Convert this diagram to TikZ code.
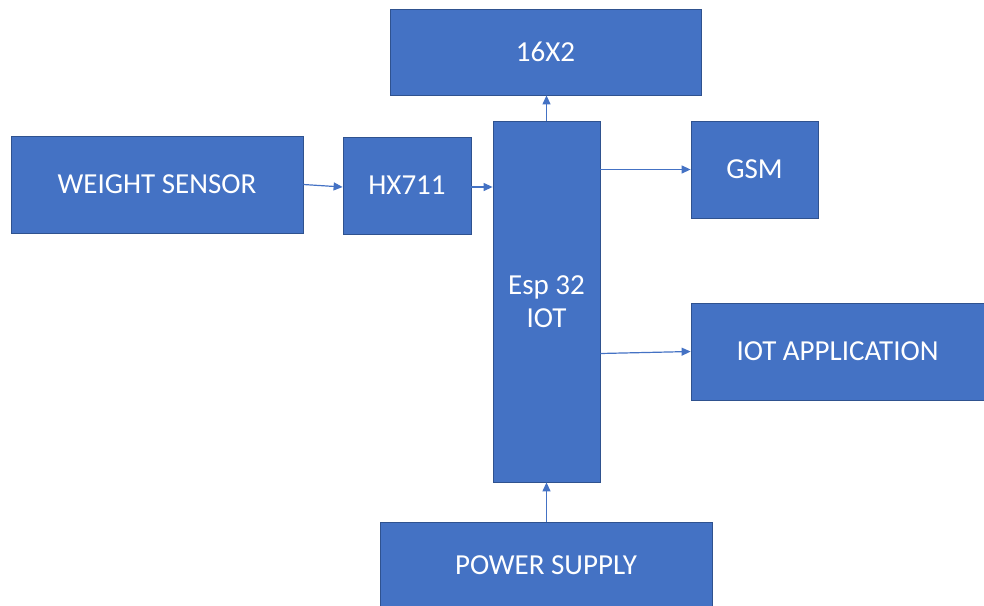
\documentclass[tikz,border=0pt]{standalone}
\usepackage{fontspec}
\setmainfont{Carlito}
\usetikzlibrary{arrows.meta,calc}
\definecolor{boxfill}{HTML}{4472C4}
\definecolor{boxline}{HTML}{2F528F}
\begin{document}
\begin{tikzpicture}[x=1pt,y=-1pt,
  blk/.style={draw=boxline,line width=0.8pt,fill=boxfill,text=white,inner sep=0pt,
    font=\fontsize{29}{33}\selectfont,align=center},
  conn/.style={draw=boxfill,line width=1.2pt,-{Triangle[length=9pt,width=8pt]}}]
\useasboundingbox (0,0) rectangle (984,605);
\node[blk,minimum width=311pt,minimum height=86pt] (lcd) at (545.5,52) {16X2};
\node[blk,minimum width=292pt,minimum height=97pt] (ws) at (157,184.5) {WEIGHT SENSOR};
\node[blk,minimum width=128pt,minimum height=97pt] (hx) at (407,185.5) {HX711};
\node[blk,minimum width=107pt,minimum height=361pt] (esp) at (546.5,301.5) {Esp 32\\IOT};
\node[blk,minimum width=127pt,minimum height=97pt] (gsm) at (754.5,169.5) {GSM};
\node[blk,minimum width=293pt,minimum height=97pt] (iot) at (837.5,351.5) {IOT APPLICATION};
\node[blk,minimum width=332pt,minimum height=86pt] (ps) at (546,565) {POWER SUPPLY};
\draw[conn] (ws.east) -- ($(hx.west)+(0,1.5)$);
\draw[conn] ($(hx.east)+(0,1.5)$) -- ($(hx.east -| esp.west)+(0,1.5)$);
\draw[conn] (esp.north) -- (esp.north |- lcd.south);
\draw[conn] (gsm.west -| esp.east) -- (gsm.west);
\draw[conn] ($(iot.west -| esp.east)+(0,2)$) -- (iot.west);
\draw[conn] (ps.north -| esp.south) -- (esp.south);
\end{tikzpicture}
\end{document}
